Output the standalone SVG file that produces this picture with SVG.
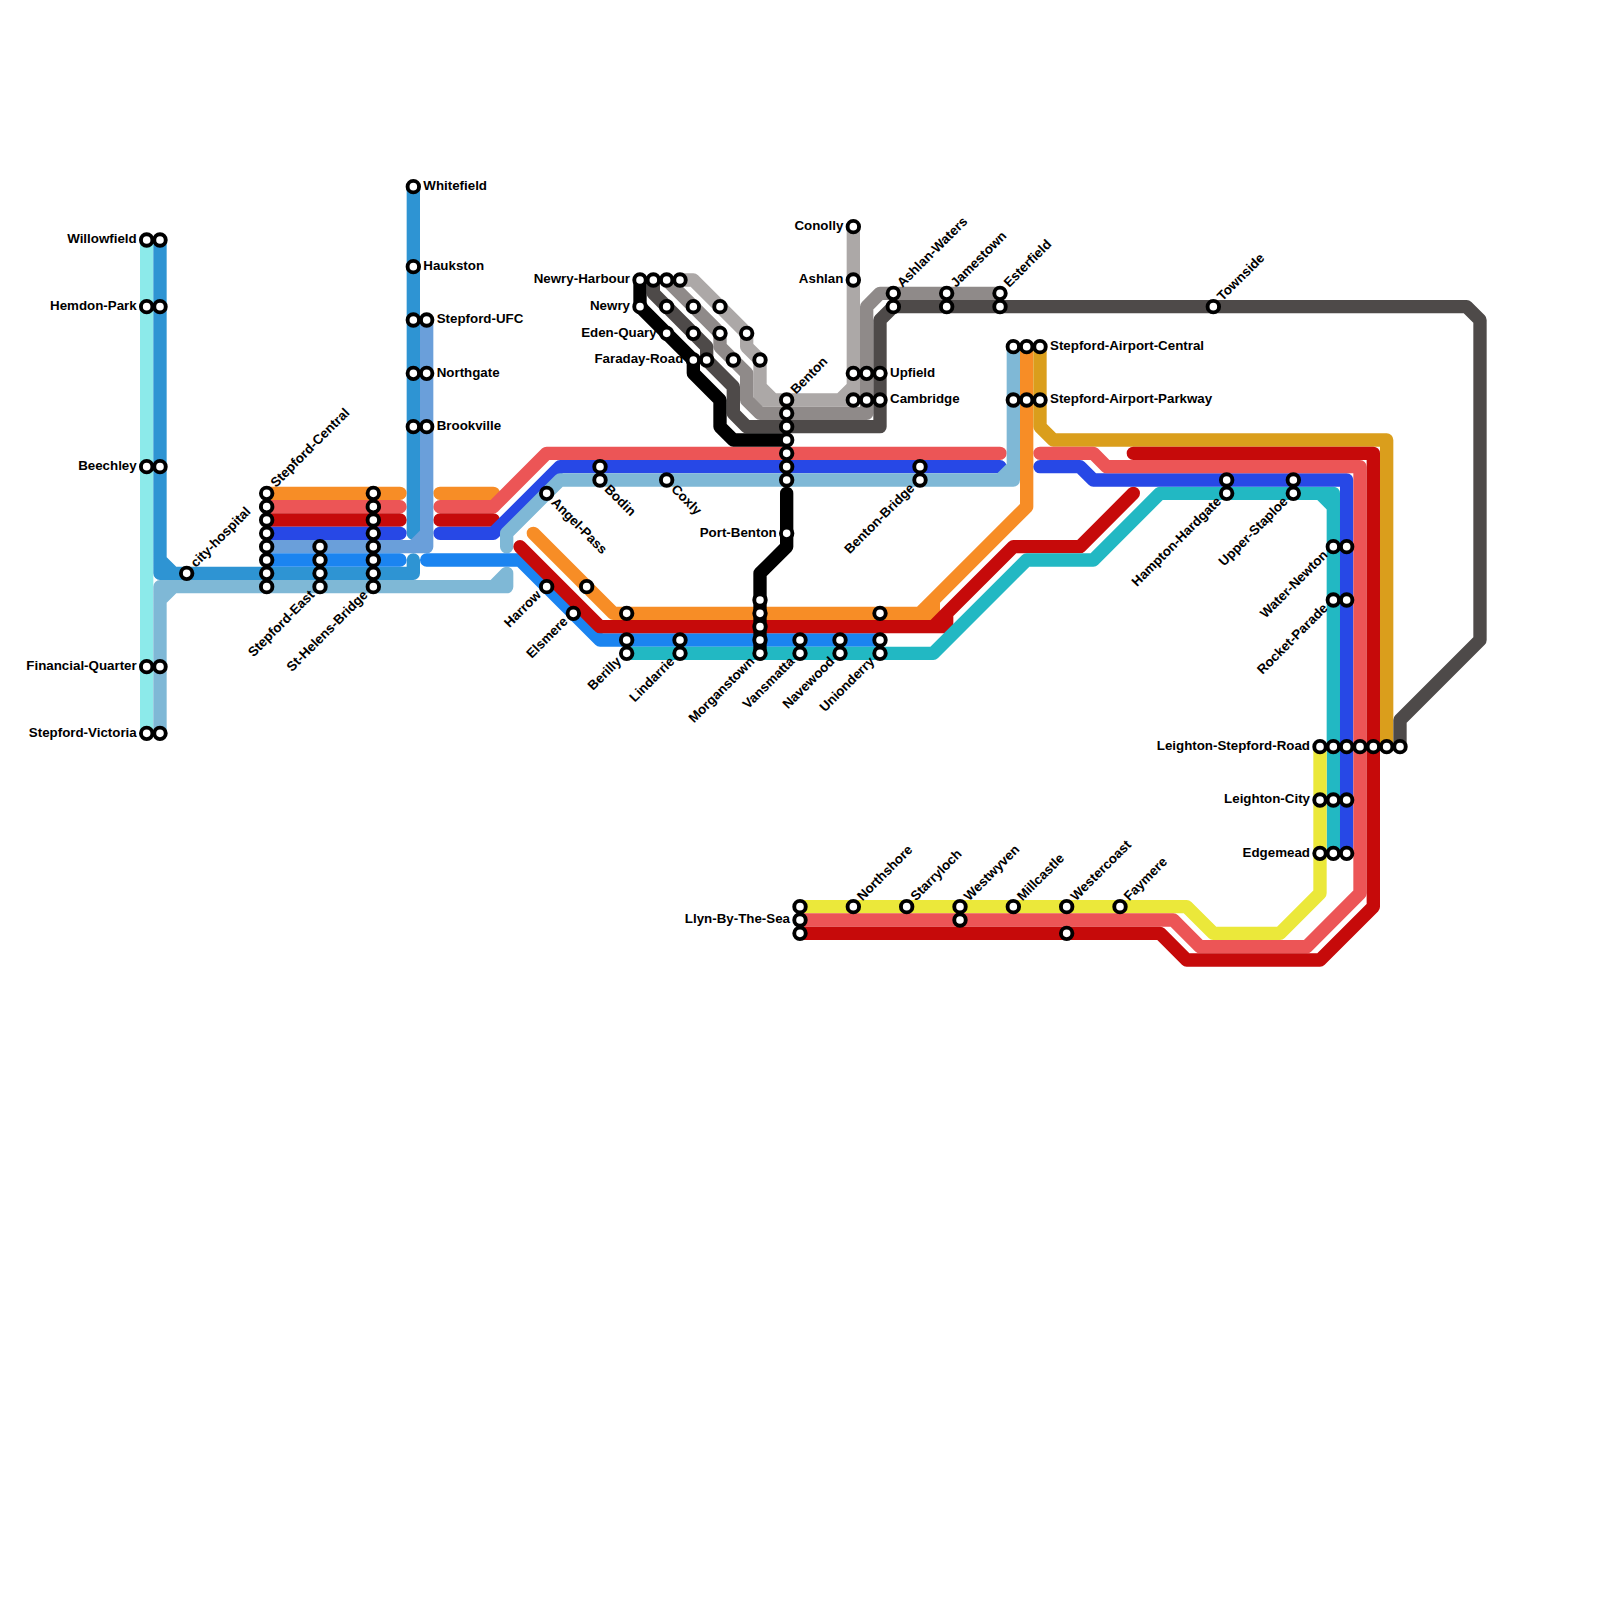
<svg xmlns="http://www.w3.org/2000/svg" width="1600" height="1600" viewBox="0 0 1600 1600">
<style>
.l{fill:none;stroke-width:1;stroke-linecap:round;stroke-linejoin:round}
circle{fill:#fff;stroke:#000;stroke-width:3.9}
text{font-family:"Liberation Sans",Arial,sans-serif;font-weight:700;font-size:13.33px;fill:#000}
.e{text-anchor:end}
</style>
<rect width="1600" height="1600" fill="#fff"/>
<g id="connectors" transform="scale(13.33333)">
<path class="l" stroke="#8ceaea" d="M11 18V55"/>
<path class="l" stroke="#2e94d3" d="M12 18V43H31V42M12 42L13 43M31 14V40"/>
<path class="l" stroke="#7fb8d6" d="M12 55V44H38V43M12 45L13 44M37 44L38 43"/>
<path class="l" stroke="#f78d26" d="M20 37H30M33 37H37M40 40L46 46H70V45L77 38V26M69 46L70 45"/>
<path class="l" stroke="#ec5556" d="M20 38H30M33 38H37L41 34H75"/>
<path class="l" stroke="#c60a0a" d="M20 39H30M33 39H37"/>
<path class="l" stroke="#2748e6" d="M20 40H30M33 40H37L42 35H75"/>
<path class="l" stroke="#7fb8d6" d="M38 41V40L42 36H76V26M75 36L76 35"/>
<path class="l" stroke="#6a9fda" d="M20 41H32V24M31 41L32 40"/>
<path class="l" stroke="#1b84f0" d="M20 42H30M32 42H39L45 48H66"/>
<path class="l" stroke="#c60a0a" d="M39 41L45 47H71V46L76 41H81L85 37M70 47L71 46"/>
<path class="l" stroke="#22b8c3" d="M47 49H70L77 42H82L87 37H100V64M99 37L100 38"/>
<path class="l" stroke="#da9e1c" d="M78 26V32L79 33H104V56"/>
<path class="l" stroke="#ebe83a" d="M60 68H89L91 70H96L99 67V56"/>
<path class="l" stroke="#2748e6" d="M78 35H81L82 36H101V64"/>
<path class="l" stroke="#ec5556" d="M78 34H82L83 35H102V67L98 71H90L88 69H60"/>
<path class="l" stroke="#c60a0a" d="M60 70H87L89 72H99L103 68V34H85"/>
<path class="l" stroke="#aca8a7" d="M51 21H52L56 25V26L57 27V30H64V17M57 29L58 30M63 30L64 29"/>
<path class="l" stroke="#8f8a89" d="M50 21L54 25V26L56 28V30L57 31H65V23L66 22H75"/>
<path class="l" stroke="#4e4a49" d="M49 21V22L53 26V27L55 29V31L56 32H66V24L67 23H110L111 24V48L105 54V56"/>
<path class="l" stroke="#000" d="M48 21V23L52 27V28L54 30V32L55 33H59M59 37V41L57 43V49"/>
</g>
<g id="willowfield"><circle cx="146.67" cy="240" r="5.75"/><circle cx="160" cy="240" r="5.75"/><text class="e" x="136.7" y="243.2">Willowfield</text></g>
<g id="hemdon-park"><circle cx="146.67" cy="306.67" r="5.75"/><circle cx="160" cy="306.67" r="5.75"/><text class="e" x="136.7" y="309.9">Hemdon-Park</text></g>
<g id="beechley"><circle cx="146.67" cy="466.67" r="5.75"/><circle cx="160" cy="466.67" r="5.75"/><text class="e" x="136.7" y="469.9">Beechley</text></g>
<g id="financial-quarter"><circle cx="146.67" cy="666.67" r="5.75"/><circle cx="160" cy="666.67" r="5.75"/><text class="e" x="136.7" y="669.9">Financial-Quarter</text></g>
<g id="stepford-victoria"><circle cx="146.67" cy="733.33" r="5.75"/><circle cx="160" cy="733.33" r="5.75"/><text class="e" x="136.7" y="736.5">Stepford-Victoria</text></g>
<g id="city-hospital"><circle cx="186.67" cy="573.33" r="5.75"/><text transform="translate(195.9 568) rotate(-45)">city-hospital</text></g>
<g id="stepford-central"><circle cx="266.67" cy="493.33" r="5.75"/><circle cx="266.67" cy="506.67" r="5.75"/><circle cx="266.67" cy="520" r="5.75"/><circle cx="266.67" cy="533.33" r="5.75"/><circle cx="266.67" cy="546.67" r="5.75"/><circle cx="266.67" cy="560" r="5.75"/><circle cx="266.67" cy="573.33" r="5.75"/><circle cx="266.67" cy="586.67" r="5.75"/><text transform="translate(275.9 488) rotate(-45)">Stepford-Central</text></g>
<g id="stepford-east"><circle cx="320" cy="546.67" r="5.75"/><circle cx="320" cy="560" r="5.75"/><circle cx="320" cy="573.33" r="5.75"/><circle cx="320" cy="586.67" r="5.75"/><text class="e" transform="translate(315.2 595.7) rotate(-45)">Stepford-East</text></g>
<g id="st-helens-bridge"><circle cx="373.33" cy="493.33" r="5.75"/><circle cx="373.33" cy="506.67" r="5.75"/><circle cx="373.33" cy="520" r="5.75"/><circle cx="373.33" cy="533.33" r="5.75"/><circle cx="373.33" cy="546.67" r="5.75"/><circle cx="373.33" cy="560" r="5.75"/><circle cx="373.33" cy="573.33" r="5.75"/><circle cx="373.33" cy="586.67" r="5.75"/><text class="e" transform="translate(368.5 595.7) rotate(-45)">St-Helens-Bridge</text></g>
<g id="whitefield"><circle cx="413.33" cy="186.67" r="5.75"/><text x="423.3" y="189.9">Whitefield</text></g>
<g id="haukston"><circle cx="413.33" cy="266.67" r="5.75"/><text x="423.3" y="269.9">Haukston</text></g>
<g id="stepford-ufc"><circle cx="413.33" cy="320" r="5.75"/><circle cx="426.67" cy="320" r="5.75"/><text x="436.7" y="323.2">Stepford-UFC</text></g>
<g id="northgate"><circle cx="413.33" cy="373.33" r="5.75"/><circle cx="426.67" cy="373.33" r="5.75"/><text x="436.7" y="376.5">Northgate</text></g>
<g id="brookville"><circle cx="413.33" cy="426.67" r="5.75"/><circle cx="426.67" cy="426.67" r="5.75"/><text x="436.7" y="429.9">Brookville</text></g>
<g id="angel-pass"><circle cx="546.67" cy="493.33" r="5.75"/><text transform="translate(550.5 503.3) rotate(45)">Angel-Pass</text></g>
<g id="bodin"><circle cx="600" cy="466.67" r="5.75"/><circle cx="600" cy="480" r="5.75"/><text transform="translate(603.8 490) rotate(45)">Bodin</text></g>
<g id="coxly"><circle cx="666.67" cy="480" r="5.75"/><text transform="translate(670.5 490) rotate(45)">Coxly</text></g>
<g id="harrow"><circle cx="546.67" cy="586.67" r="5.75"/><circle cx="586.67" cy="586.67" r="5.75"/><text class="e" transform="translate(541.9 595.7) rotate(-45)">Harrow</text></g>
<g id="elsmere"><circle cx="573.33" cy="613.33" r="5.75"/><text class="e" transform="translate(568.5 622.3) rotate(-45)">Elsmere</text></g>
<g id="berilly"><circle cx="626.67" cy="613.33" r="5.75"/><circle cx="626.67" cy="640" r="5.75"/><circle cx="626.67" cy="653.33" r="5.75"/><text class="e" transform="translate(621.9 662.3) rotate(-45)">Berilly</text></g>
<g id="lindarrie"><circle cx="680" cy="640" r="5.75"/><circle cx="680" cy="653.33" r="5.75"/><text class="e" transform="translate(675.2 662.3) rotate(-45)">Lindarrie</text></g>
<g id="morganstown"><circle cx="760" cy="600" r="5.75"/><circle cx="760" cy="613.33" r="5.75"/><circle cx="760" cy="626.67" r="5.75"/><circle cx="760" cy="640" r="5.75"/><circle cx="760" cy="653.33" r="5.75"/><text class="e" transform="translate(755.2 662.3) rotate(-45)">Morganstown</text></g>
<g id="vansmatta"><circle cx="800" cy="640" r="5.75"/><circle cx="800" cy="653.33" r="5.75"/><text class="e" transform="translate(795.2 662.3) rotate(-45)">Vansmatta</text></g>
<g id="navewood"><circle cx="840" cy="640" r="5.75"/><circle cx="840" cy="653.33" r="5.75"/><text class="e" transform="translate(835.2 662.3) rotate(-45)">Navewood</text></g>
<g id="unionderry"><circle cx="880" cy="613.33" r="5.75"/><circle cx="880" cy="640" r="5.75"/><circle cx="880" cy="653.33" r="5.75"/><text class="e" transform="translate(875.2 662.3) rotate(-45)">Unionderry</text></g>
<g id="newry-harbour"><circle cx="640" cy="280" r="5.75"/><circle cx="653.33" cy="280" r="5.75"/><circle cx="666.67" cy="280" r="5.75"/><circle cx="680" cy="280" r="5.75"/><text class="e" x="630" y="283.2">Newry-Harbour</text></g>
<g id="newry"><circle cx="640" cy="306.67" r="5.75"/><circle cx="666.67" cy="306.67" r="5.75"/><circle cx="693.33" cy="306.67" r="5.75"/><circle cx="720" cy="306.67" r="5.75"/><text class="e" x="630" y="309.9">Newry</text></g>
<g id="eden-quary"><circle cx="666.67" cy="333.33" r="5.75"/><circle cx="693.33" cy="333.33" r="5.75"/><circle cx="720" cy="333.33" r="5.75"/><circle cx="746.67" cy="333.33" r="5.75"/><text class="e" x="656.7" y="336.5">Eden-Quary</text></g>
<g id="faraday-road"><circle cx="693.33" cy="360" r="5.75"/><circle cx="706.67" cy="360" r="5.75"/><circle cx="733.33" cy="360" r="5.75"/><circle cx="760" cy="360" r="5.75"/><text class="e" x="683.3" y="363.2">Faraday-Road</text></g>
<g id="benton"><circle cx="786.67" cy="400" r="5.75"/><circle cx="786.67" cy="413.33" r="5.75"/><circle cx="786.67" cy="426.67" r="5.75"/><circle cx="786.67" cy="440" r="5.75"/><circle cx="786.67" cy="453.33" r="5.75"/><circle cx="786.67" cy="466.67" r="5.75"/><circle cx="786.67" cy="480" r="5.75"/><text transform="translate(795.9 394.7) rotate(-45)">Benton</text></g>
<g id="port-benton"><circle cx="786.67" cy="533.33" r="5.75"/><text class="e" x="776.7" y="536.5">Port-Benton</text></g>
<g id="conolly"><circle cx="853.33" cy="226.67" r="5.75"/><text class="e" x="843.3" y="229.9">Conolly</text></g>
<g id="ashlan"><circle cx="853.33" cy="280" r="5.75"/><text class="e" x="843.3" y="283.2">Ashlan</text></g>
<g id="upfield"><circle cx="853.33" cy="373.33" r="5.75"/><circle cx="866.67" cy="373.33" r="5.75"/><circle cx="880" cy="373.33" r="5.75"/><text x="890" y="376.5">Upfield</text></g>
<g id="cambridge"><circle cx="853.33" cy="400" r="5.75"/><circle cx="866.67" cy="400" r="5.75"/><circle cx="880" cy="400" r="5.75"/><text x="890" y="403.2">Cambridge</text></g>
<g id="ashlan-waters"><circle cx="893.33" cy="293.33" r="5.75"/><circle cx="893.33" cy="306.67" r="5.75"/><text transform="translate(902.5 288) rotate(-45)">Ashlan-Waters</text></g>
<g id="jamestown"><circle cx="946.67" cy="293.33" r="5.75"/><circle cx="946.67" cy="306.67" r="5.75"/><text transform="translate(955.9 288) rotate(-45)">Jamestown</text></g>
<g id="esterfield"><circle cx="1000" cy="293.33" r="5.75"/><circle cx="1000" cy="306.67" r="5.75"/><text transform="translate(1009.2 288) rotate(-45)">Esterfield</text></g>
<g id="townside"><circle cx="1213.33" cy="306.67" r="5.75"/><text transform="translate(1222.5 301.4) rotate(-45)">Townside</text></g>
<g id="benton-bridge"><circle cx="920" cy="466.67" r="5.75"/><circle cx="920" cy="480" r="5.75"/><text class="e" transform="translate(915.2 489) rotate(-45)">Benton-Bridge</text></g>
<g id="stepford-airport-central"><circle cx="1013.33" cy="346.67" r="5.75"/><circle cx="1026.67" cy="346.67" r="5.75"/><circle cx="1040" cy="346.67" r="5.75"/><text x="1050" y="349.9">Stepford-Airport-Central</text></g>
<g id="stepford-airport-parkway"><circle cx="1013.33" cy="400" r="5.75"/><circle cx="1026.67" cy="400" r="5.75"/><circle cx="1040" cy="400" r="5.75"/><text x="1050" y="403.2">Stepford-Airport-Parkway</text></g>
<g id="hampton-hardgate"><circle cx="1226.67" cy="480" r="5.75"/><circle cx="1226.67" cy="493.33" r="5.75"/><text class="e" transform="translate(1221.9 502.3) rotate(-45)">Hampton-Hardgate</text></g>
<g id="upper-staploe"><circle cx="1293.33" cy="480" r="5.75"/><circle cx="1293.33" cy="493.33" r="5.75"/><text class="e" transform="translate(1288.5 502.3) rotate(-45)">Upper-Staploe</text></g>
<g id="water-newton"><circle cx="1333.33" cy="546.67" r="5.75"/><circle cx="1346.67" cy="546.67" r="5.75"/><text class="e" transform="translate(1328.5 555.7) rotate(-45)">Water-Newton</text></g>
<g id="rocket-parade"><circle cx="1333.33" cy="600" r="5.75"/><circle cx="1346.67" cy="600" r="5.75"/><text class="e" transform="translate(1328.5 609) rotate(-45)">Rocket-Parade</text></g>
<g id="leighton-stepford-road"><circle cx="1320" cy="746.67" r="5.75"/><circle cx="1333.33" cy="746.67" r="5.75"/><circle cx="1346.67" cy="746.67" r="5.75"/><circle cx="1360" cy="746.67" r="5.75"/><circle cx="1373.33" cy="746.67" r="5.75"/><circle cx="1386.67" cy="746.67" r="5.75"/><circle cx="1400" cy="746.67" r="5.75"/><text class="e" x="1310" y="749.9">Leighton-Stepford-Road</text></g>
<g id="leighton-city"><circle cx="1320" cy="800" r="5.75"/><circle cx="1333.33" cy="800" r="5.75"/><circle cx="1346.67" cy="800" r="5.75"/><text class="e" x="1310" y="803.2">Leighton-City</text></g>
<g id="edgemead"><circle cx="1320" cy="853.33" r="5.75"/><circle cx="1333.33" cy="853.33" r="5.75"/><circle cx="1346.67" cy="853.33" r="5.75"/><text class="e" x="1310" y="856.5">Edgemead</text></g>
<g id="llyn-by-the-sea"><circle cx="800" cy="906.67" r="5.75"/><circle cx="800" cy="920" r="5.75"/><circle cx="800" cy="933.33" r="5.75"/><text class="e" x="790" y="923.2">Llyn-By-The-Sea</text></g>
<g id="northshore"><circle cx="853.33" cy="906.67" r="5.75"/><text transform="translate(862.5 901.4) rotate(-45)">Northshore</text></g>
<g id="starryloch"><circle cx="906.67" cy="906.67" r="5.75"/><text transform="translate(915.9 901.4) rotate(-45)">Starryloch</text></g>
<g id="westwyven"><circle cx="960" cy="906.67" r="5.75"/><circle cx="960" cy="920" r="5.75"/><text transform="translate(969.2 901.4) rotate(-45)">Westwyven</text></g>
<g id="millcastle"><circle cx="1013.33" cy="906.67" r="5.75"/><text transform="translate(1022.5 901.4) rotate(-45)">Millcastle</text></g>
<g id="westercoast"><circle cx="1066.67" cy="906.67" r="5.75"/><circle cx="1066.67" cy="933.33" r="5.75"/><text transform="translate(1075.9 901.4) rotate(-45)">Westercoast</text></g>
<g id="faymere"><circle cx="1120" cy="906.67" r="5.75"/><text transform="translate(1129.2 901.4) rotate(-45)">Faymere</text></g>
</svg>
